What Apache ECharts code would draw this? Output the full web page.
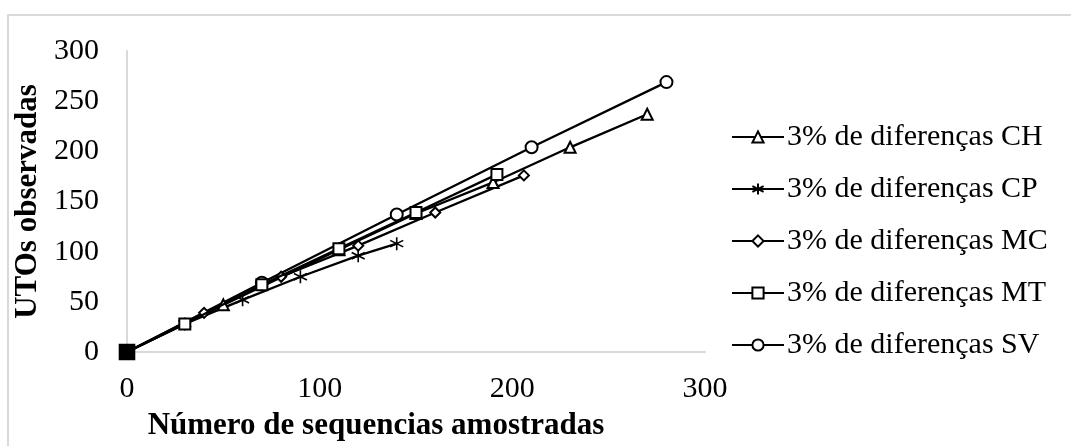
<!DOCTYPE html>
<html lang="pt">
<head>
  <meta charset="UTF-8">
  <title>UTOs observadas</title>
  <script src="https://cdn.jsdelivr.net/npm/echarts@6/dist/echarts.min.js"></script>
  <style>
    html, body { margin: 0; padding: 0; background: #fff; }
    #chart { width: 1071px; height: 446px; }
  </style>
</head>
<body>
  <div id="chart"></div>
  <script>
    // séries (x = número de sequências, y = UTOs)
    const names = ['3% de diferenças CH', '3% de diferenças CP', '3% de diferenças MC', '3% de diferenças MT', '3% de diferenças SV'];
    const xCH = [0, 50, 110, 150, 190, 230, 270];
    const yCH = [0, 47, 102, 138, 169, 204, 237];
    const xCP = [0, 30, 60, 90, 120, 140];
    const yCP = [0, 28, 52, 75, 96, 108];
    const xMC = [0, 40, 80, 120, 160, 206];
    const yMC = [0, 39, 75, 106, 139, 176];
    const xMT = [0, 30, 70, 110, 150, 192];
    const yMT = [0, 28, 67, 103, 139, 177];
    const xSV = [0, 70, 140, 210, 280];
    const ySV = [0, 69, 137, 204, 269];
    const xTicks = [0, 100, 200, 300];
    const yTicks = [0, 50, 100, 150, 200, 250, 300];

    const font = '"Liberation Serif", "Times New Roman", serif';
    const star = 'path://M0,-10L0,10M-8.66,-5L8.66,5M-8.66,5L8.66,-5';
    const pairs = (xs, ys) => xs.map((x, i) => [x, ys[i]]);

    function mkSeries(name, data, symbol, size, extra) {
      return Object.assign({
        name: name,
        type: 'line',
        data: data,
        symbol: symbol,
        symbolSize: size,
        showSymbol: true,
        color: '#000',
        lineStyle: { color: '#000', width: 2.3 },
        itemStyle: { color: '#000', borderColor: '#000', borderWidth: 1.6 }
      }, extra || {});
    }

    const mtData = pairs(xMT, yMT);
    mtData[0] = { value: mtData[0], symbol: 'rect', symbolSize: 15 };

    const chart = echarts.init(document.getElementById('chart'));
    chart.setOption({
      animation: false,
      backgroundColor: '#fff',
      textStyle: { fontFamily: font },
      graphic: [{
        type: 'rect',
        shape: { x: 8, y: 15, width: 1200, height: 600 },
        style: { fill: 'none', stroke: '#d9d9d9', lineWidth: 2 },
        silent: true
      }],
      grid: { left: 127, right: 366, top: 51, bottom: 88 },
      xAxis: {
        type: 'value',
        min: 0, max: 300, interval: 100,
        name: 'Número de sequencias amostradas',
        nameLocation: 'middle',
        nameGap: 58,
        nameTextStyle: { fontFamily: font, fontWeight: 'bold', fontSize: 31, color: '#000', padding: [0, 80, 0, 0] },
        axisLine: { show: true, lineStyle: { color: '#d9d9d9', width: 2 } },
        axisTick: { show: false },
        splitLine: { show: false },
        axisLabel: {
          fontFamily: font, fontSize: 30, color: '#000', margin: 22,
          formatter: v => xTicks.includes(v) ? String(v) : ''
        }
      },
      yAxis: {
        type: 'value',
        min: 0, max: 300, interval: 50,
        name: 'UTOs observadas',
        nameLocation: 'middle',
        nameGap: 82,
        nameTextStyle: { fontFamily: font, fontWeight: 'bold', fontSize: 31, color: '#000' },
        axisLine: { show: true, lineStyle: { color: '#d9d9d9', width: 2 } },
        axisTick: { show: false },
        splitLine: { show: false },
        axisLabel: {
          fontFamily: font, fontSize: 30, color: '#000', margin: 28,
          formatter: v => yTicks.includes(v) ? String(v) : ''
        }
      },
      legend: {
        orient: 'vertical',
        left: 726,
        top: 117,
        itemWidth: 52,
        itemHeight: 14,
        itemGap: 22,
        data: names,
        textStyle: { fontFamily: font, fontSize: 30, color: '#000', padding: [0, 0, 0, -2] }
      },
      series: [
        mkSeries(names[0], pairs(xCH, yCH), 'emptyTriangle', 11),
        mkSeries(names[1], pairs(xCP, yCP), star, 13),
        mkSeries(names[2], pairs(xMC, yMC), 'emptyDiamond', 10),
        mkSeries(names[3], mtData, 'emptyRect', 11, { z: 4 }),
        mkSeries(names[4], pairs(xSV, ySV), 'emptyCircle', 12)
      ]
    });
  </script>
</body>
</html>
